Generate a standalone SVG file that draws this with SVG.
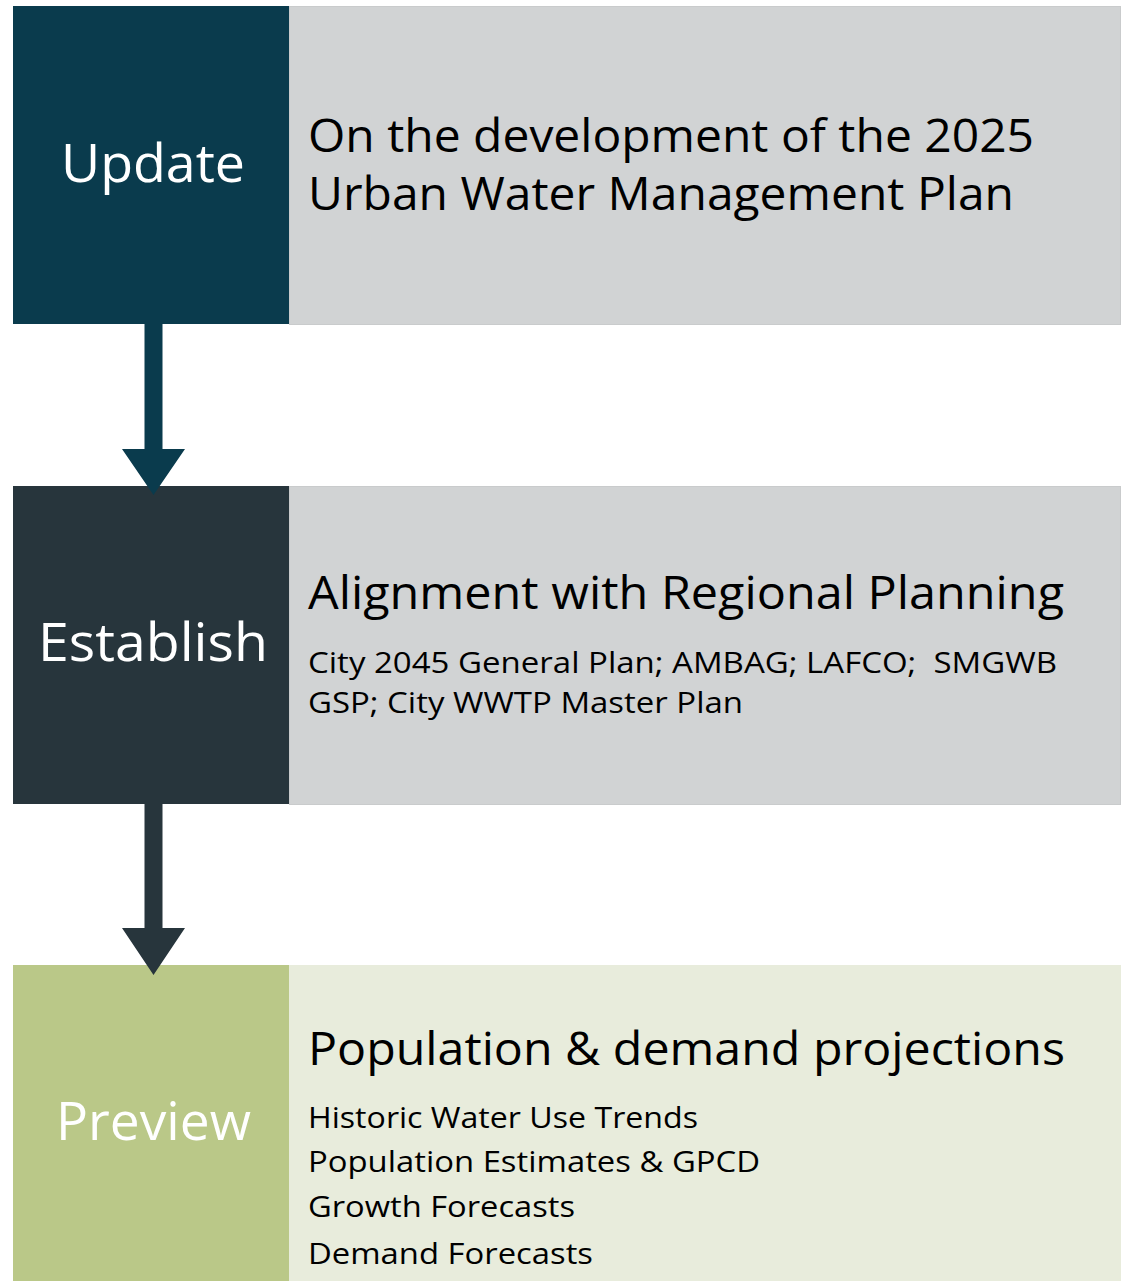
<svg xmlns="http://www.w3.org/2000/svg" width="1129" height="1281" viewBox="0 0 1129 1281">
<style>
.lbl{font-family:"Open Sans","Noto Sans",sans-serif;fill:#FFFFFF;font-size:53px}
.hd{font-family:"Open Sans","Noto Sans",sans-serif;fill:#000000;font-size:46px}
.sm{font-family:"Open Sans","Noto Sans",sans-serif;fill:#000000;font-size:30px}
.gray{fill:#D1D3D4;stroke:#C9CBCC;stroke-width:1}
</style>
<rect width="1129" height="1281" fill="#FFFFFF"/>
<g id="update">
<rect x="13" y="6" width="276" height="318" fill="#0A3B4D"/>
<text class="lbl" x="61" y="182" textLength="184" lengthAdjust="spacingAndGlyphs">Update</text>
</g>
<g id="update-detail">
<rect class="gray" x="289.5" y="6.5" width="831" height="318"/>
<text class="hd" x="308" y="152" textLength="726" lengthAdjust="spacingAndGlyphs">On the development of the 2025</text>
<text class="hd" x="308" y="210" textLength="706" lengthAdjust="spacingAndGlyphs">Urban Water Management Plan</text>
</g>
<g id="establish">
<rect x="13" y="486" width="276" height="318" fill="#27353C"/>
<text class="lbl" x="38" y="661" textLength="230" lengthAdjust="spacingAndGlyphs">Establish</text>
</g>
<g id="establish-detail">
<rect class="gray" x="289.5" y="486.5" width="831" height="318"/>
<text class="hd" x="308" y="609" textLength="756" lengthAdjust="spacingAndGlyphs">Alignment with Regional Planning</text>
<text class="sm" x="308" y="673" textLength="749" lengthAdjust="spacingAndGlyphs" xml:space="preserve">City 2045 General Plan; AMBAG; LAFCO;  SMGWB</text>
<text class="sm" x="308" y="713" textLength="435" lengthAdjust="spacingAndGlyphs">GSP; City WWTP Master Plan</text>
</g>
<g id="preview">
<rect x="13" y="965" width="276" height="316" fill="#BAC888"/>
<text class="lbl" x="56" y="1140" textLength="195" lengthAdjust="spacingAndGlyphs">Preview</text>
</g>
<g id="preview-detail">
<rect x="289" y="965" width="832" height="316" fill="#E8ECDC"/>
<text class="hd" x="308" y="1065" textLength="757" lengthAdjust="spacingAndGlyphs">Population &amp; demand projections</text>
<text class="sm" x="308" y="1128" textLength="390" lengthAdjust="spacingAndGlyphs">Historic Water Use Trends</text>
<text class="sm" x="308" y="1172" textLength="452" lengthAdjust="spacingAndGlyphs">Population Estimates &amp; GPCD</text>
<text class="sm" x="308" y="1217" textLength="267" lengthAdjust="spacingAndGlyphs">Growth Forecasts</text>
<text class="sm" x="308" y="1264" textLength="285" lengthAdjust="spacingAndGlyphs">Demand Forecasts</text>
</g>
<g id="connectors">
<polygon points="144.5,324 162.5,324 162.5,449 185,449 153.5,495 122,449 144.5,449" fill="#0A3B4D"/>
<polygon points="144.5,804 162.5,804 162.5,928 185,928 153.5,975 122,928 144.5,928" fill="#27353C"/>
</g>
</svg>
